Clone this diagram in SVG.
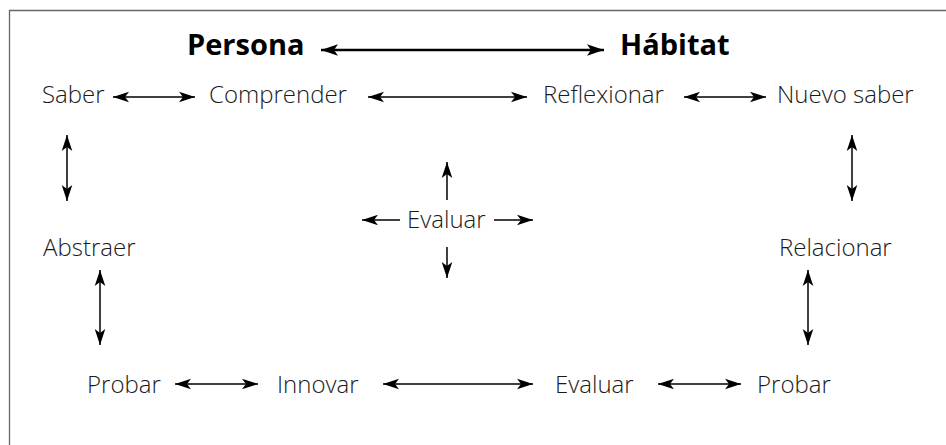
<svg xmlns="http://www.w3.org/2000/svg" width="946" height="445" viewBox="0 0 946 445">
<defs>
<style>
text{font-family:"Open Sans","Noto Sans","Liberation Sans",sans-serif;fill:#1a1a1a;font-size:24px;font-weight:300}
.b{font-weight:bold;font-size:29px;fill:#000}
.c{stroke:#000;stroke-width:1.5;fill:none;marker-start:url(#a);marker-end:url(#a)}
.s{stroke:#000;stroke-width:1.5;fill:none;marker-end:url(#a)}
.big{stroke:#000;stroke-width:2.6;fill:none;marker-start:url(#A);marker-end:url(#A)}
</style>
<marker id="a" markerUnits="userSpaceOnUse" viewBox="-17 -6 18 12" refX="0" refY="0" markerWidth="18" markerHeight="12" orient="auto-start-reverse" overflow="visible">
<path d="M0,0 L-16,-5.3 L-12,0 L-16,5.3 Z" fill="#000"/>
</marker>
<marker id="A" markerUnits="userSpaceOnUse" viewBox="-18 -7 19 14" refX="0" refY="0" markerWidth="19" markerHeight="14" orient="auto-start-reverse" overflow="visible">
<path d="M0,0 L-17,-5.8 L-13,0 L-17,5.8 Z" fill="#000"/>
</marker>
</defs>
<rect width="946" height="445" fill="#fff"/>
<path d="M9.5,445 V10.5 H946" fill="none" stroke="#666" stroke-width="1.3"/>
<g id="persona"><text class="b" x="187" y="55">Persona</text></g>
<g id="habitat"><text class="b" x="620" y="55">Hábitat</text></g>
<g id="saber"><text x="42" y="103">Saber</text></g>
<g id="comprender"><text x="209" y="103">Comprender</text></g>
<g id="reflexionar"><text x="543" y="103">Reflexionar</text></g>
<g id="nuevo-saber"><text x="777" y="103">Nuevo saber</text></g>
<g id="abstraer"><text x="43" y="256">Abstraer</text></g>
<g id="relacionar"><text x="779" y="256">Relacionar</text></g>
<g id="evaluar-centro"><text x="407" y="228">Evaluar</text></g>
<g id="probar-izq"><text x="87" y="393">Probar</text></g>
<g id="innovar"><text x="277" y="393">Innovar</text></g>
<g id="evaluar"><text x="555" y="393">Evaluar</text></g>
<g id="probar-der"><text x="757" y="393">Probar</text></g>
<g id="connectors">
<line class="big" x1="321" y1="50" x2="604" y2="50"/>
<line class="c" x1="113" y1="97" x2="195" y2="97"/>
<line class="c" x1="368" y1="97" x2="527" y2="97"/>
<line class="c" x1="684" y1="97" x2="766" y2="97"/>
<line class="c" x1="67" y1="135" x2="67" y2="201"/>
<line class="c" x1="100" y1="270" x2="100" y2="345"/>
<line class="c" x1="852" y1="135" x2="852" y2="201"/>
<line class="c" x1="808" y1="270" x2="808" y2="345"/>
<line class="s" x1="447" y1="200" x2="447" y2="162"/>
<line class="s" x1="447" y1="247" x2="447" y2="278"/>
<line class="s" x1="400" y1="220" x2="362" y2="220"/>
<line class="s" x1="494" y1="220" x2="533" y2="220"/>
<line class="c" x1="175" y1="384" x2="258" y2="384"/>
<line class="c" x1="383" y1="384" x2="533" y2="384"/>
<line class="c" x1="658" y1="384" x2="741" y2="384"/>
</g>
</svg>
